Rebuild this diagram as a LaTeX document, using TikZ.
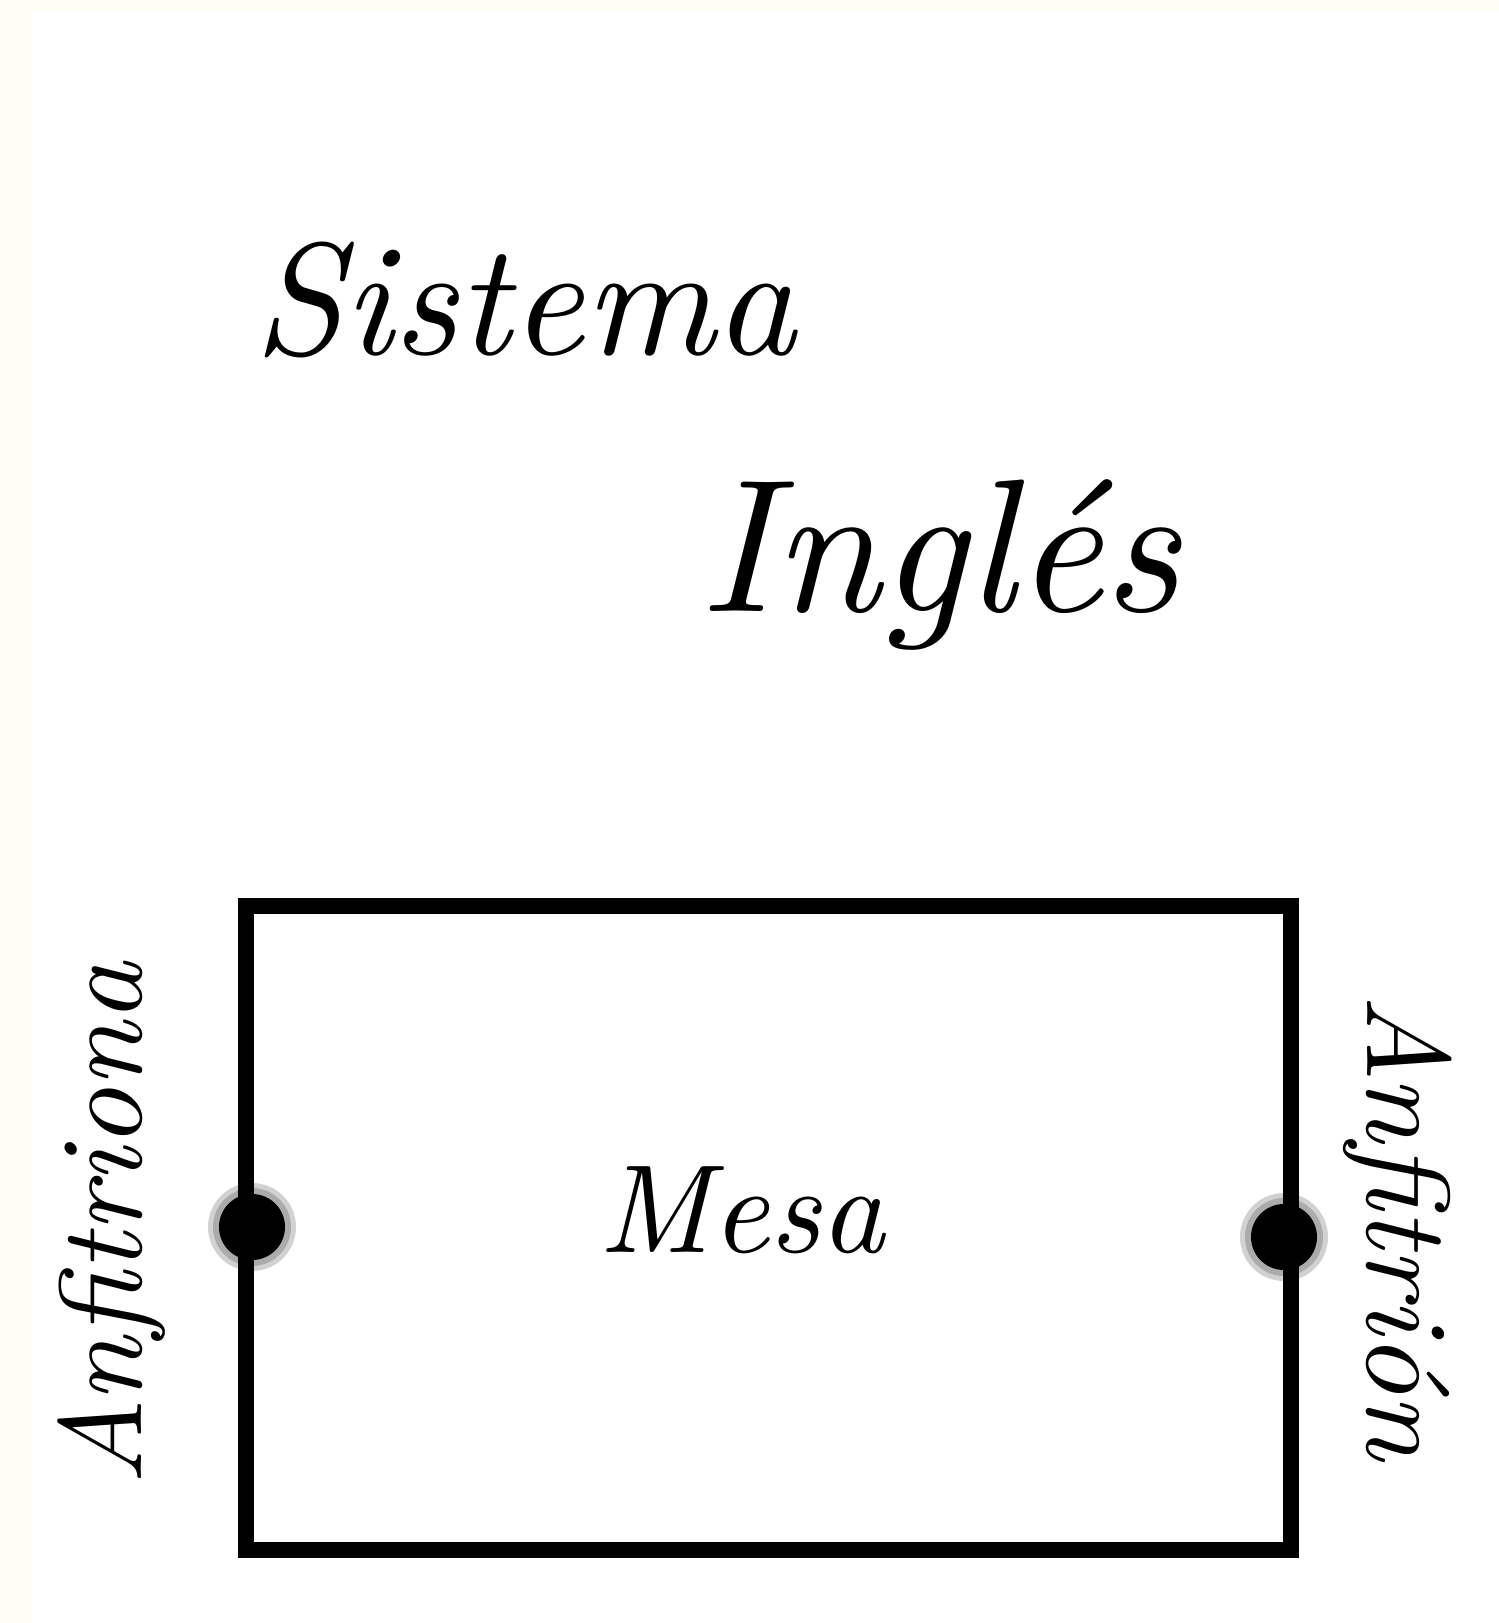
\documentclass[tikz,border=0pt]{standalone}
\usepackage{graphicx}
\definecolor{creamedge}{HTML}{FFFDF4}
\tikzset{
  scripttext/.style={inner sep=0pt, font=\itshape},
  tableframe/.style={draw=black, line width=8pt, inner sep=0pt, fill=white},
  seatdot/.style={circle, fill=black, inner sep=0pt, minimum size=33pt},
  seathalo/.style={circle, fill=black, opacity=0.18, inner sep=0pt, minimum size=#1},
  seathalo/.default=40pt
}
\begin{document}
\begin{tikzpicture}[x=0.5pt, y=-0.5pt]
\useasboundingbox (0,0) rectangle (1499,1623);
\fill[creamedge] (0,0) rectangle (1499,1623);
\fill[white] (32,10) rectangle (1499,1623);

\node[scripttext] (sistema) at (525,300) {\resizebox{271pt}{!}{Sistema}};
\node[scripttext] (ingles) at (940,565) {\resizebox{240pt}{!}{Inglés}};

\node[tableframe, minimum width=522.5pt, minimum height=322pt] (table) at (768.5,1228) {};
\node[scripttext] (mesa) at (742,1210) {\resizebox{143pt}{!}{Mesa}};

\node[seathalo=44pt] (hostahaloa) at (252,1227) {};
\node[seathalo=39pt] (hostahalob) at (252,1227) {};
\node[seatdot] (hosta) at (252,1227) {};
\node[seathalo=44pt] (hostbhaloa) at (1284,1237) {};
\node[seathalo=39pt] (hostbhalob) at (1284,1237) {};
\node[seatdot] (hostb) at (1284,1237) {};

\node[scripttext, rotate=90] (anfitriona) at (112,1224) {\resizebox{261pt}{!}{Anfitriona}};
\node[scripttext, rotate=-90] (anfitrion) at (1398,1227) {\resizebox{233pt}{!}{Anfitrión}};
\end{tikzpicture}
\end{document}
